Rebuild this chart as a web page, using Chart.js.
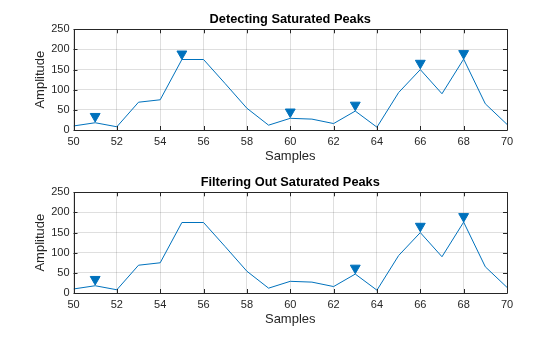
<!DOCTYPE html>
<html>
<head>
<meta charset="utf-8">
<script src="https://cdn.jsdelivr.net/npm/chart.js@4/dist/chart.umd.min.js"></script>
<style>
  html, body { margin: 0; padding: 0; background: #fff; }
  body { width: 560px; height: 337px; position: relative; overflow: hidden; }
  .wrap { position: absolute; left: 0; width: 560px; height: 168px; }
  #w1 { top: 0; }
  #w2 { top: 163px; }
</style>
</head>
<body>
<div class="wrap" id="w1"><canvas id="c1" width="560" height="168"></canvas></div>
<div class="wrap" id="w2"><canvas id="c2" width="560" height="168"></canvas></div>
<script>
// ---- data ----
const samples = [50,51,52,53,54,55,56,57,58,59,60,61,62,63,64,65,66,67,68,69,70];
const amplitude = [10,18,8,69,75,175,175,115,54,12,29,27,16,47,7,93,150,90,176,65,14];

// peak markers (drawn slightly above each peak)
const peaksAllX = [51,55,60,63,66,68];
const peaksAllY = [34,189,45,62,166,190];
const peaksFiltX = [51,63,66,68];
const peaksFiltY = [34,62,166,190];

const xTicks = [50,52,54,56,58,60,62,64,66,68,70];
const yTicks = [0,50,100,150,200,250];

const titles = ['Detecting Saturated Peaks', 'Filtering Out Saturated Peaks'];

const BLUE = '#0072BD';
const AX = '#262626';
const FONT = "'Liberation Sans', Arial, Helvetica, sans-serif";

const framePlugin = {
  id: 'frame',
  afterDraw(chart, args, opts) {
    const {ctx, chartArea: a, scales} = chart;
    ctx.save();
    ctx.strokeStyle = AX;
    ctx.lineWidth = 1;
    ctx.beginPath();
    ctx.rect(Math.round(a.left) + 0.5, Math.round(a.top) + 0.5,
             Math.round(a.right) - Math.round(a.left), Math.round(a.bottom) - Math.round(a.top));
    ctx.stroke();
    // inward tick marks
    ctx.beginPath();
    const tl = 4;
    xTicks.forEach(v => {
      const px = Math.round(scales.x.getPixelForValue(v)) + 0.5;
      ctx.moveTo(px, a.bottom); ctx.lineTo(px, a.bottom - tl);
      ctx.moveTo(px, a.top); ctx.lineTo(px, a.top + tl);
    });
    yTicks.forEach(v => {
      const py = Math.round(scales.y.getPixelForValue(v)) + 0.5;
      ctx.moveTo(a.left, py); ctx.lineTo(a.left + tl, py);
      ctx.moveTo(a.right, py); ctx.lineTo(a.right - tl, py);
    });
    ctx.stroke();
    // title
    ctx.fillStyle = '#000';
    ctx.font = 'bold 12.8px ' + FONT;
    ctx.textAlign = 'center';
    ctx.textBaseline = 'middle';
    ctx.fillText(opts.text, (a.left + a.right) / 2, a.top - 9.5);
    ctx.restore();
  }
};

function makeChart(id, title, px, py) {
  const lineData = samples.map((s, i) => ({x: s, y: amplitude[i]}));
  const markerData = px.map((s, i) => ({x: s, y: py[i]}));
  return new Chart(document.getElementById(id), {
    type: 'line',
    data: {
      datasets: [
        {
          data: lineData,
          borderColor: BLUE,
          borderWidth: 1,
          pointRadius: 0,
          tension: 0,
          fill: false,
          order: 2
        },
        {
          data: markerData,
          showLine: false,
          pointStyle: 'triangle',
          rotation: 180,
          pointRadius: 5.7,
          pointBackgroundColor: BLUE,
          pointBorderColor: BLUE,
          pointBorderWidth: 1,
          clip: false,
          order: 1
        }
      ]
    },
    options: {
      responsive: false,
      animation: false,
      events: [],
      layout: { padding: { left: 0, right: 53, top: 29.3, bottom: 0 } },
      plugins: {
        legend: { display: false },
        tooltip: { enabled: false },
        title: { display: false },
        frame: { text: title }
      },
      scales: {
        x: {
          type: 'linear',
          min: 50, max: 70,
          afterFit(s) { s.height = 38; },
          afterBuildTicks(s) { s.ticks = xTicks.map(v => ({value: v})); },
          grid: { color: 'rgba(38,38,38,0.15)', drawTicks: false, lineWidth: 1 },
          border: { display: false },
          ticks: { color: AX, font: { family: FONT, size: 11 }, padding: 5, maxRotation: 0, autoSkip: false },
          title: { display: true, text: 'Samples', color: AX, font: { family: FONT, size: 13 }, padding: { top: 0, bottom: 4 } }
        },
        y: {
          type: 'linear',
          min: 0, max: 250,
          afterFit(s) { s.width = 73.5; },
          afterBuildTicks(s) { s.ticks = yTicks.map(v => ({value: v})); },
          grid: { color: 'rgba(38,38,38,0.15)', drawTicks: false, lineWidth: 1 },
          border: { display: false },
          ticks: { color: AX, font: { family: FONT, size: 11 }, padding: 4, autoSkip: false },
          title: { display: true, text: 'Amplitude', color: AX, font: { family: FONT, size: 13 }, padding: { top: 33, bottom: 0 } }
        }
      }
    },
    plugins: [framePlugin]
  });
}

makeChart('c1', titles[0], peaksAllX, peaksAllY);
makeChart('c2', titles[1], peaksFiltX, peaksFiltY);
</script>
</body>
</html>
